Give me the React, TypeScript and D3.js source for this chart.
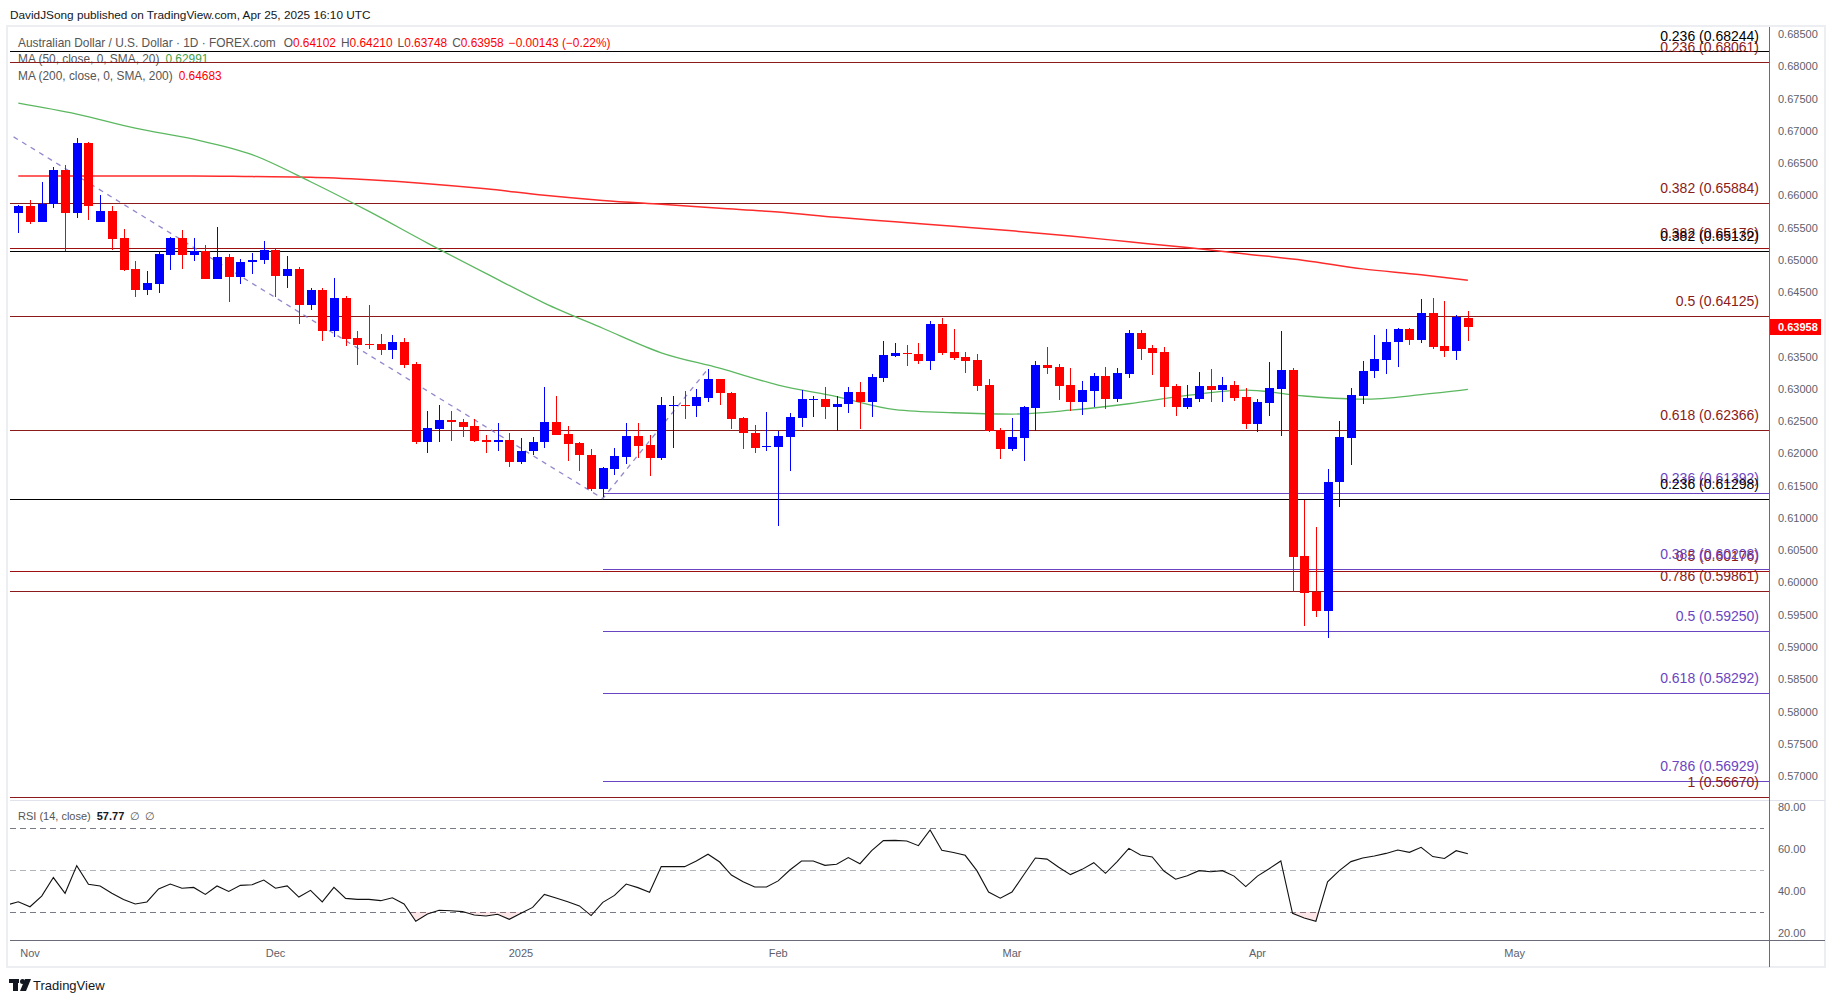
import * as d3 from 'd3'

// AUD/USD daily, 2024-10-31 .. 2025-04-25
const FIRST_BAR = '2024-10-31'
const HOLIDAYS = ['2024-12-25', '2025-01-01']

const OPEN = [
  0.6573, 0.6583, 0.6559, 0.6586, 0.6639, 0.6572, 0.6681, 0.6559, 0.6576, 0.6534,
  0.6486, 0.6454, 0.6463, 0.6508, 0.6534, 0.6507, 0.6513, 0.6471, 0.6504, 0.6474,
  0.6496, 0.6499, 0.6515, 0.6475, 0.6486, 0.643, 0.6453, 0.639, 0.6441, 0.6379,
  0.637, 0.637, 0.6361, 0.6373, 0.6339, 0.6217, 0.6238, 0.6252, 0.6249, 0.6243,
  0.6221, 0.6217, 0.6221, 0.6187, 0.6203, 0.6217, 0.6249, 0.623, 0.6216, 0.6198,
  0.6145, 0.6176, 0.6195, 0.6227, 0.6213, 0.6193, 0.6274, 0.6275, 0.6274, 0.6286,
  0.6315, 0.6294, 0.6255, 0.6232, 0.621, 0.621, 0.6226, 0.6255, 0.6284, 0.6284,
  0.6272, 0.6276, 0.6295, 0.628, 0.6317, 0.6351, 0.6355, 0.6354, 0.6344, 0.6401,
  0.6357, 0.6349, 0.6345, 0.6306, 0.6237, 0.6207, 0.6224, 0.6271, 0.6337, 0.6334,
  0.6306, 0.6279, 0.6297, 0.632, 0.6285, 0.6323, 0.6387, 0.6363, 0.6357, 0.6304,
  0.6272, 0.6285, 0.6304, 0.6298, 0.6306, 0.6287, 0.6245, 0.6278, 0.63, 0.6329,
  0.6041, 0.5986, 0.5956, 0.6155, 0.6224, 0.6289, 0.6327, 0.6345, 0.6372, 0.6393,
  0.6376, 0.6418, 0.6366, 0.6359, 0.64102,
]
const HIGH = [
  0.6585, 0.6593, 0.6621, 0.6644, 0.6647, 0.6689, 0.6683, 0.6601, 0.6583, 0.6548,
  0.6498, 0.6483, 0.6513, 0.6536, 0.6546, 0.6534, 0.6523, 0.6551, 0.6509, 0.6501,
  0.6511, 0.6529, 0.6517, 0.6506, 0.6489, 0.6456, 0.6456, 0.6472, 0.6444, 0.639,
  0.643, 0.6385, 0.6383, 0.6379, 0.6342, 0.6266, 0.6275, 0.6266, 0.6253, 0.6254,
  0.6229, 0.6247, 0.6232, 0.6224, 0.6225, 0.6303, 0.6289, 0.6242, 0.6218, 0.6207,
  0.6179, 0.6208, 0.6247, 0.6247, 0.6229, 0.6287, 0.6289, 0.6297, 0.63, 0.6331,
  0.6315, 0.6295, 0.6257, 0.6244, 0.6264, 0.6235, 0.6263, 0.6298, 0.6289, 0.6303,
  0.6289, 0.6303, 0.6311, 0.6323, 0.6374, 0.6371, 0.6368, 0.6371, 0.6405, 0.641,
  0.6393, 0.6357, 0.6354, 0.6315, 0.6239, 0.6255, 0.6273, 0.6343, 0.6365, 0.6339,
  0.6332, 0.6312, 0.6325, 0.6334, 0.6332, 0.6391, 0.6391, 0.6368, 0.6365, 0.6308,
  0.6306, 0.6326, 0.6331, 0.6318, 0.6312, 0.6301, 0.6284, 0.6342, 0.639, 0.6332,
  0.6128, 0.6086, 0.6176, 0.625, 0.6301, 0.6343, 0.6383, 0.6393, 0.6394, 0.6394,
  0.644, 0.6441, 0.6436, 0.6414, 0.6421,
]
const LOW = [
  0.6542, 0.6556, 0.6559, 0.6581, 0.6514, 0.6565, 0.6561, 0.6559, 0.6516, 0.6482,
  0.6443, 0.6445, 0.6449, 0.6485, 0.6486, 0.6498, 0.647, 0.647, 0.6435, 0.6463,
  0.6478, 0.6494, 0.6443, 0.6457, 0.6401, 0.6423, 0.6375, 0.6381, 0.6367, 0.6337,
  0.6362, 0.6353, 0.6347, 0.6333, 0.6215, 0.62, 0.6217, 0.622, 0.6226, 0.6217,
  0.6201, 0.6203, 0.6179, 0.6184, 0.6198, 0.6209, 0.6229, 0.6189, 0.6173, 0.6141,
  0.6132, 0.6167, 0.6183, 0.6193, 0.6165, 0.619, 0.6209, 0.6254, 0.6257, 0.628,
  0.6275, 0.6238, 0.6207, 0.62, 0.6204, 0.6088, 0.6172, 0.6241, 0.6257, 0.6254,
  0.6235, 0.6262, 0.6238, 0.6256, 0.6311, 0.6349, 0.6336, 0.6338, 0.633, 0.6353,
  0.6345, 0.6324, 0.6297, 0.6233, 0.6192, 0.6204, 0.6188, 0.6235, 0.6323, 0.6283,
  0.6266, 0.626, 0.6272, 0.6269, 0.6279, 0.6317, 0.6345, 0.6321, 0.6272, 0.6258,
  0.6269, 0.628, 0.628, 0.628, 0.6282, 0.6238, 0.6233, 0.6258, 0.6227, 0.5986,
  0.5933, 0.5947, 0.5914, 0.6117, 0.6182, 0.6277, 0.6317, 0.6323, 0.6334, 0.6368,
  0.6371, 0.6362, 0.6349, 0.6345, 0.63748,
]
const CLOSE = [
  0.6583, 0.6559, 0.6587, 0.6639, 0.6572, 0.6681, 0.6583, 0.6576, 0.6533, 0.6485,
  0.6454, 0.6464, 0.6509, 0.6534, 0.6507, 0.6513, 0.6471, 0.6504, 0.6474, 0.6497,
  0.65, 0.6515, 0.6475, 0.6486, 0.643, 0.6453, 0.639, 0.6441, 0.6378, 0.6368,
  0.6368, 0.6361, 0.6373, 0.6337, 0.6217, 0.6239, 0.6252, 0.6248, 0.6241, 0.622,
  0.6217, 0.6221, 0.6187, 0.6204, 0.6218, 0.6249, 0.6229, 0.6215, 0.6197, 0.6145,
  0.6177, 0.6196, 0.6227, 0.6212, 0.6193, 0.6275, 0.6275, 0.6274, 0.6287, 0.6315,
  0.6293, 0.6254, 0.6231, 0.6209, 0.6212, 0.6227, 0.6256, 0.6284, 0.6285, 0.6272,
  0.6277, 0.6295, 0.628, 0.6318, 0.6353, 0.6355, 0.6354, 0.6344, 0.6401, 0.6356,
  0.6348, 0.6344, 0.6305, 0.6235, 0.6207, 0.6225, 0.6272, 0.6337, 0.6333, 0.6304,
  0.6279, 0.6298, 0.632, 0.6285, 0.6325, 0.6387, 0.6362, 0.6356, 0.6303, 0.6272,
  0.6286, 0.6304, 0.6298, 0.6306, 0.6286, 0.6245, 0.628, 0.6301, 0.6329, 0.604,
  0.5984, 0.5956, 0.6156, 0.6225, 0.629, 0.6328, 0.6346, 0.6373, 0.6393, 0.6376,
  0.6418, 0.6365, 0.6359, 0.6411, 0.63958,
]

// moving averages, read every 5th bar
const MA_AT = [0, 5, 10, 15, 20, 25, 30, 35, 40, 45, 50, 55, 60, 65, 70, 75, 80, 85, 90, 95, 100, 105, 110, 115, 120, 124]
const MA50 = [
  0.6743, 0.6726, 0.6704, 0.6687, 0.6663, 0.6621, 0.6575, 0.6526, 0.6479, 0.6433,
  0.6394, 0.6356, 0.6332, 0.6306, 0.6288, 0.6268, 0.6263, 0.6261, 0.6267, 0.6277,
  0.629, 0.6298, 0.6289, 0.6284, 0.6291, 0.62991,
]
const MA200 = [
  0.663, 0.663, 0.663, 0.663, 0.6629, 0.6628, 0.6624, 0.6618, 0.661, 0.66,
  0.6592, 0.6586, 0.658, 0.6574, 0.6566, 0.6559, 0.6552, 0.6545, 0.6537, 0.6528,
  0.6519, 0.6509, 0.6499, 0.6486, 0.6477, 0.64683,
]

// RSI(14) starting one bar before the first candle
const RSI_FROM = '2024-10-30'
const RSI = [
  33.3,
  34.9, 32.5, 37.6, 46.4, 38.9, 52.1, 43.2, 42.4, 38.9, 36.0,
  33.8, 34.8, 41.0, 43.3, 41.3, 41.7, 38.4, 42.4, 39.8, 42.7,
  43.0, 45.2, 41.3, 42.4, 37.1, 40.3, 34.8, 41.7, 36.5, 36.0,
  36.0, 35.4, 36.8, 33.8, 25.6, 29.0, 30.8, 30.6, 30.2, 28.6,
  28.1, 28.9, 26.5, 29.4, 32.2, 38.4, 36.7, 34.9, 32.9, 28.3,
  34.6, 37.9, 43.3, 41.6, 39.4, 51.6, 51.6, 51.6, 54.3, 57.5,
  53.8, 47.6, 44.4, 41.9, 41.9, 44.8, 50.0, 54.3, 54.3, 52.2,
  52.7, 55.9, 53.0, 59.2, 64.0, 64.1, 63.8, 61.6, 69.1, 59.4,
  58.3, 57.0, 49.7, 39.5, 36.6, 39.5, 47.6, 55.7, 55.2, 51.3,
  47.8, 50.3, 53.5, 48.4, 54.0, 60.3, 57.1, 56.2, 49.5, 45.6,
  47.3, 49.7, 49.2, 49.7, 47.1, 42.1, 47.1, 50.6, 54.3, 29.4,
  27.1, 25.6, 44.4, 49.7, 54.0, 55.7, 56.7, 57.9, 59.5, 58.4,
  60.8, 56.4, 55.5, 59.2, 57.77,
]

// fibonacci drawings: [ratio label, price]
const FIB_MAROON: [string, number][] = [
  ['0.236', 0.68061], ['0.382', 0.65884], ['0.5', 0.64125], ['0.618', 0.62366], ['0.786', 0.59861], ['1', 0.5667],
]
const FIB_RED: [string, number][] = [['0.382', 0.65176], ['0.5', 0.60176]]
const FIB_BLACK: [string, number][] = [['0.236', 0.68244], ['0.382', 0.65132], ['0.236', 0.61298]]
const FIB_PURPLE: [string, number][] = [
  ['0.236', 0.61392], ['0.382', 0.60208], ['0.5', 0.5925], ['0.618', 0.58292], ['0.786', 0.56929],
]
const FIB_PURPLE_FROM = '2025-01-13'
const TREND: [string, number][] = [['2024-09-30', 0.6942], ['2025-01-13', 0.613], ['2025-01-24', 0.6331]]

const PRICE_TICKS = [
  0.57, 0.575, 0.58, 0.585, 0.59, 0.595, 0.6, 0.605, 0.61, 0.615, 0.62, 0.625,
  0.63, 0.635, 0.64, 0.645, 0.65, 0.655, 0.66, 0.665, 0.67, 0.675, 0.68, 0.685,
]
const RSI_TICKS = [20, 40, 60, 80]
const MONTHS: [string, string][] = [
  ['2024-11', 'Nov'], ['2024-12', 'Dec'], ['2025-01', '2025'], ['2025-02', 'Feb'],
  ['2025-03', 'Mar'], ['2025-04', 'Apr'], ['2025-05', 'May'],
]

const LAST = { o: '0.64102', h: '0.64210', l: '0.63748', c: '0.63958', chg: '−0.00143 (−0.22%)', ma50: '0.62991', ma200: '0.64683', rsi: '57.77' }

// ---- calendar of trading days ----
const fmt = d3.timeFormat('%Y-%m-%d')
const CALENDAR = d3.timeDay
  .range(new Date(2024, 8, 30), new Date(2025, 5, 1))
  .filter((d) => d.getDay() !== 0 && d.getDay() !== 6 && !HOLIDAYS.includes(fmt(d)))
  .map(fmt)
const BASE = CALENDAR.indexOf(FIRST_BAR)
const barOf = (day: string) => CALENDAR.indexOf(day) - BASE

const W = 1835
const H = 1003
const L = 10
const R = 1769
const TOP = 27
const MID = 800
const RSI_BOT = 940
const FRAME_BOT = 967
const FONT = '"Liberation Sans", Arial, sans-serif'

const BLUE = '#0000ff'
const RED = '#ff0000'
const MAROON = '#8b1a1a'
const DARKRED = '#9e1010'
const PURPLE = '#6a45c2'

export default function App() {
  const x = d3.scaleLinear().domain([-0.71, 149.76]).range([L, R])
  const y = d3.scaleLinear().domain([0.59, 0.685]).range([647, 34])
  const ry = d3.scaleLinear().domain([20, 80]).range([933, 807])
  const crisp = (v: number) => Math.round(v) + 0.5

  const maLine = d3
    .line<number>()
    .x((_, k) => x(MA_AT[k]))
    .y((v) => y(v))
    .curve(d3.curveMonotoneX)

  const rsi0 = barOf(RSI_FROM)
  const rsiLine = d3
    .line<number>()
    .x((_, k) => x(rsi0 + k))
    .y((v) => ry(v))
  const rsiArea = d3
    .area<number>()
    .x((_, k) => x(rsi0 + k))
    .y0(ry(30))
    .y1((v) => ry(v))

  const trendPath = d3
    .line<[string, number]>()
    .x((d) => x(barOf(d[0])))
    .y((d) => y(d[1]))(TREND)

  const purpleFrom = x(barOf(FIB_PURPLE_FROM))

  const fibSets: { rows: [string, number][]; color: string; text: string; from: number }[] = [
    { rows: FIB_MAROON, color: MAROON, text: MAROON, from: L },
    { rows: FIB_RED, color: DARKRED, text: MAROON, from: L },
    { rows: FIB_PURPLE, color: PURPLE, text: PURPLE, from: purpleFrom },
    { rows: FIB_BLACK, color: '#000', text: '#000', from: L },
  ]

  return (
    <svg
      width={W}
      height={H}
      viewBox={`0 0 ${W} ${H}`}
      style={{ position: 'absolute', left: 0, top: 0, background: '#fff' }}
      fontFamily={FONT}
    >
      <defs>
        <clipPath id="plot">
          <rect x={L} y={TOP} width={R - L} height={MID - TOP} />
        </clipPath>
        <clipPath id="rsiPane">
          <rect x={L} y={MID} width={R - L} height={RSI_BOT - MID} />
        </clipPath>
        <clipPath id="oversold">
          <rect x={L} y={ry(30)} width={R - L} height={RSI_BOT - ry(30)} />
        </clipPath>
      </defs>

      <text x={10} y={19} fontSize={11.8} fill="#131722">
        DavidJSong published on TradingView.com, Apr 25, 2025 16:10 UTC
      </text>

      {/* frame */}
      <rect x={7} y={26} width={1818} height={FRAME_BOT - 26} fill="#fff" stroke="#eceef2" strokeWidth={2} />

      {/* legend */}
      <text x={18} y={47} fontSize={11.9} fill="#555">
        Australian Dollar / U.S. Dollar · 1D · FOREX.com
        <tspan dx={8}>O</tspan>
        <tspan fill={RED}>{LAST.o}</tspan>
        <tspan dx={5}>H</tspan>
        <tspan fill={RED}>{LAST.h}</tspan>
        <tspan dx={5}>L</tspan>
        <tspan fill={RED}>{LAST.l}</tspan>
        <tspan dx={5}>C</tspan>
        <tspan fill={RED}>{LAST.c}</tspan>
        <tspan dx={5} fill={RED}>{LAST.chg}</tspan>
      </text>
      <text x={18} y={63} fontSize={11.9} fill="#555">
        MA (50, close, 0, SMA, 20)
        <tspan dx={6} fill="#43a047">{LAST.ma50}</tspan>
      </text>
      <text x={18} y={80} fontSize={11.9} fill="#555">
        MA (200, close, 0, SMA, 200)
        <tspan dx={6} fill={RED}>{LAST.ma200}</tspan>
      </text>

      {/* fib lines */}
      <g shapeRendering="crispEdges">
        {fibSets.map((s, si) =>
          s.rows.map(([, p], k) => (
            <line key={`${si}-${k}`} x1={s.from} x2={R} y1={crisp(y(p))} y2={crisp(y(p))} stroke={s.color} strokeWidth={1.2} />
          )),
        )}
      </g>
      <g fontSize={14} textAnchor="end">
        {fibSets.map((s, si) =>
          s.rows.map(([r, p], k) => (
            <text key={`${si}-${k}`} x={1759} y={y(p) - 10} fill={s.text}>
              {`${r} (${p.toFixed(5)})`}
            </text>
          )),
        )}
      </g>

      <g clipPath="url(#plot)">
        {/* fib extension trend line */}
        <path d={trendPath ?? ''} fill="none" stroke="#7f72c4" strokeOpacity={0.85} strokeWidth={1.3} strokeDasharray="5 5" />

        <path d={maLine(MA200) ?? ''} fill="none" stroke="#ff2b2b" strokeWidth={1.5} />
        <path d={maLine(MA50) ?? ''} fill="none" stroke="#5cb860" strokeWidth={1.3} />

        {/* candles */}
        {CLOSE.map((c, i) => {
          const o = OPEN[i]
          const col = c >= o ? BLUE : RED
          const cx = crisp(x(i))
          const top = Math.round(y(Math.max(o, c)))
          const bot = Math.round(y(Math.min(o, c)))
          return (
            <g key={i} shapeRendering="crispEdges">
              <line x1={cx} x2={cx} y1={Math.round(y(HIGH[i]))} y2={Math.round(y(LOW[i]))} stroke={col} strokeWidth={1} />
              <rect x={cx - 4.5} y={top} width={9} height={Math.max(1, bot - top)} fill={col} />
            </g>
          )
        })}
      </g>

      {/* price scale */}
      <g fontSize={11} fill="#5d606b">
        {PRICE_TICKS.map((t) => (
          <text key={t} x={1778} y={y(t) + 4}>
            {t.toFixed(5)}
          </text>
        ))}
      </g>
      <rect x={R} y={Math.round(y(CLOSE[CLOSE.length - 1])) - 8} width={52} height={16} fill={RED} />
      <text x={1778} y={y(CLOSE[CLOSE.length - 1]) + 4} fontSize={11} fontWeight="bold" fill="#fff">
        {LAST.c}
      </text>

      {/* RSI pane */}
      <line x1={L} x2={1825} y1={MID + 0.5} y2={MID + 0.5} stroke="#e0e3eb" />
      <g shapeRendering="crispEdges">
        {[70, 30].map((v) => (
          <line key={v} x1={L} x2={1764} y1={crisp(ry(v))} y2={crisp(ry(v))} stroke="#787b86" strokeDasharray="6 4" />
        ))}
        <line x1={L} x2={1764} y1={crisp(ry(50))} y2={crisp(ry(50))} stroke="#b2b5be" strokeDasharray="6 4" />
      </g>
      <g clipPath="url(#rsiPane)">
        <path d={rsiArea(RSI) ?? ''} fill="rgba(242,54,69,0.12)" clipPath="url(#oversold)" />
        <path d={rsiLine(RSI) ?? ''} fill="none" stroke="#111" strokeWidth={1.1} />
      </g>
      <text x={18} y={820} fontSize={11} fill="#555">
        RSI (14, close)
        <tspan dx={6} fill="#131722" fontWeight="bold">{LAST.rsi}</tspan>
        <tspan dx={6}>∅</tspan>
        <tspan dx={5}>∅</tspan>
      </text>
      <g fontSize={11} fill="#5d606b">
        {RSI_TICKS.map((t) => (
          <text key={t} x={1778} y={ry(t) + 4}>
            {t.toFixed(2)}
          </text>
        ))}
      </g>

      {/* time scale */}
      <line x1={L} x2={1825} y1={RSI_BOT + 0.5} y2={RSI_BOT + 0.5} stroke="#6a6d78" />
      <g fontSize={11} fill="#5d606b" textAnchor="middle">
        {MONTHS.map(([m, label]) => (
          <text key={m} x={x(CALENDAR.findIndex((d) => d.startsWith(m)) - BASE)} y={957}>
            {label}
          </text>
        ))}
      </g>
      <line x1={R + 0.5} x2={R + 0.5} y1={TOP} y2={FRAME_BOT} stroke="#6a6d78" />

      {/* logo */}
      <g fill="#131722">
        <rect x={9} y={979} width={10} height={4} />
        <rect x={13} y={979} width={5} height={12} />
        <circle cx={22.5} cy={981.5} r={2.5} />
        <path d="M25 979 L31 979 L26 991 L20 991 Z" />
      </g>
      <text x={33} y={990} fontSize={13} fill="#131722">
        TradingView
      </text>
    </svg>
  )
}
